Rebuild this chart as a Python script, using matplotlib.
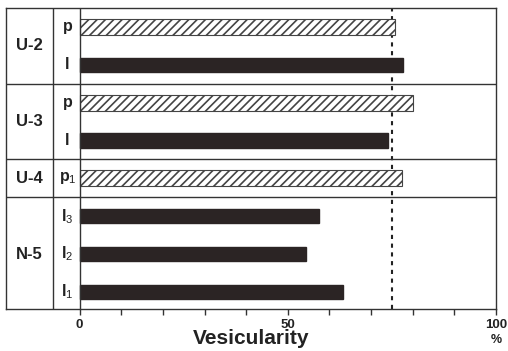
import matplotlib
matplotlib.use("Agg")
from matplotlib import pyplot as plt

plt.rcParams['font.family'] = ['Liberation Sans', 'DejaVu Sans']
plt.rcParams['mathtext.fontset'] = 'custom'
plt.rcParams['mathtext.rm'] = 'Liberation Sans'
plt.rcParams['mathtext.it'] = 'Liberation Sans'
plt.rcParams['hatch.linewidth'] = 1.2

# samples, top to bottom
groups = ["U-2", "U-3", "U-4", "N-5"]
group_sizes = [2, 2, 1, 3]
sub_labels = ["p", "l", "p", "l", r"p$_1$", r"l$_3$", r"l$_2$", r"l$_1$"]
kinds = ["p", "l", "p", "l", "p", "l", "l", "l"]
vesicularity = [75.7, 77.6, 80.1, 74.0, 77.4, 57.6, 54.4, 63.3]
threshold = 75
x_ticks = [0, 10, 20, 30, 40, 50, 60, 70, 80, 90, 100]
x_labels = ["0", "", "", "", "", "50", "", "", "", "", "100"]

frame = '#333333'
dark = '#2b2424'
txt = '#222222'

fig = plt.figure(figsize=(5.08, 3.51), dpi=100)
ax = fig.add_axes([6 / 508, 1 - 309 / 351, 490 / 508, 301 / 351])

for i, (v, k) in enumerate(zip(vesicularity, kinds)):
    if k == "p":
        ax.barh(i, v, height=0.42, color='white', edgecolor='#444444',
                hatch='////', linewidth=0.8, zorder=2)
    else:
        ax.barh(i, v, height=0.38, color=dark, edgecolor=dark, zorder=2)

ax.set_xlim(-17.7, 100)
ax.set_ylim(7.45, -0.5)

# table frame
ax.axvline(0, color=frame, lw=1.0, zorder=3)
ax.axvline(-6.4, color=frame, lw=1.0, zorder=3)
start = -0.5
for name, n in zip(groups, group_sizes):
    end = start + n
    if end < 7:
        ax.axhline(end, color=frame, lw=1.0, zorder=3)
    ax.text(-12.05, (start + end) / 2, name, ha='center', va='center',
            fontsize=12, fontweight='bold', color=txt)
    start = end

for i, lab in enumerate(sub_labels):
    ax.text(-2.9, i, lab, ha='center', va='center', fontsize=11.5,
            fontweight='bold', color=txt)

ax.axvline(threshold, color=txt, lw=1.5, linestyle=(0, (2, 2.2)), zorder=1)

for s in ax.spines.values():
    s.set_color(frame)
    s.set_linewidth(1.0)

ax.set_yticks([])
ax.set_xticks(x_ticks)
ax.set_xticklabels(x_labels, fontsize=9.5, fontweight='bold', color=txt)
ax.tick_params(axis='x', direction='out', length=4, width=1.0, color=frame, pad=3)
ax.set_xlabel("Vesicularity", fontsize=15, fontweight='bold', color=txt, labelpad=-1)
ax.annotate("%", xy=(1.0, 0), xycoords='axes fraction', xytext=(0, -18),
            textcoords='offset points', ha='center', va='top', fontsize=9,
            fontweight='bold', color=txt)

fig.savefig("out.png", dpi=100)
